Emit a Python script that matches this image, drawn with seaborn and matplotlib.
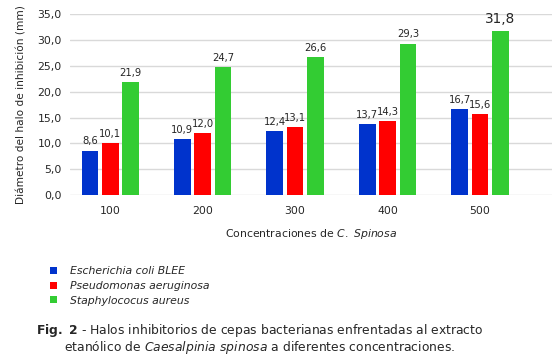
import pandas as pd
import matplotlib.pyplot as plt
import seaborn as sns

# datos
concentraciones = ["100", "200", "300", "400", "500"]
cepas = ["Escherichia coli BLEE", "Pseudomonas aeruginosa", "Staphylococus aureus"]
e_coli = [8.6, 10.9, 12.4, 13.7, 16.7]
pseudomonas = [10.1, 12.0, 13.1, 14.3, 15.6]
staphylo = [21.9, 24.7, 26.6, 29.3, 31.8]
colores = ["#0033cc", "#ff0000", "#33cc33"]

df = pd.DataFrame({
    "conc": concentraciones * 3,
    "valor": e_coli + pseudomonas + staphylo,
    "cepa": [c for c in cepas for _ in concentraciones],
})

sns.set_style("white")
plt.rcParams["font.family"] = ["DejaVu Sans"]
plt.rcParams["mathtext.fontset"] = "custom"
plt.rcParams["mathtext.bf"] = "DejaVu Sans:bold"
plt.rcParams["mathtext.it"] = "DejaVu Sans:italic"
plt.rcParams["mathtext.rm"] = "DejaVu Sans"

fig = plt.figure(figsize=(5.52, 3.6), dpi=100)
ax = fig.add_axes([0.127, 0.458, 0.873, 0.503])

sns.barplot(data=df, x="conc", y="valor", hue="cepa", palette=colores,
            width=0.66, gap=0.18, linewidth=0, ax=ax, saturation=1, legend=True)

coma = lambda v: f"{v:.1f}".replace(".", ",")
for cont in ax.containers:
    etiquetas = ax.bar_label(cont, labels=[coma(b.get_height()) for b in cont],
                             padding=3, fontsize=7.2)
etiquetas[-1].set_fontsize(9.8)

ax.set_ylim(0, 35)
ax.set_xlim(-0.435, 4.78)
ax.set_yticks(range(0, 36, 5))
ax.set_yticklabels([coma(v) for v in range(0, 36, 5)], fontsize=7.8)
ax.tick_params(axis="x", labelsize=7.8, pad=8, length=0)
ax.tick_params(axis="y", length=0, pad=6)
ax.yaxis.grid(True, color="#d9d9d9", linewidth=1)
ax.set_axisbelow(True)
for s in ax.spines.values():
    s.set_visible(False)

ax.set_ylabel("Diámetro del halo de inhibición (mm)", fontsize=7.6, labelpad=8)
ax.set_xlabel(r"Concentraciones de $\mathit{C.\ Spinosa}$", fontsize=7.8, labelpad=8)

handles, labels = ax.get_legend_handles_labels()
ax.get_legend().remove()
leg = fig.legend(handles, labels, loc="upper left", bbox_to_anchor=(0.083, 0.272),
                 frameon=False, fontsize=7.8, handlelength=0.65, handleheight=0.65,
                 labelspacing=0.42, handletextpad=1.2, borderaxespad=0)
for t in leg.get_texts():
    t.set_fontstyle("italic")

fig.text(0.47, 0.058,
         r"$\mathbf{Fig.\ 2}$ - Halos inhibitorios de cepas bacterianas enfrentadas al extracto" "\n"
         r"etanólico de $\mathit{Caesalpinia\ spinosa}$ a diferentes concentraciones.",
         ha="center", va="center", fontsize=8.9, linespacing=1.05)

fig.savefig("out.png", dpi=100)
